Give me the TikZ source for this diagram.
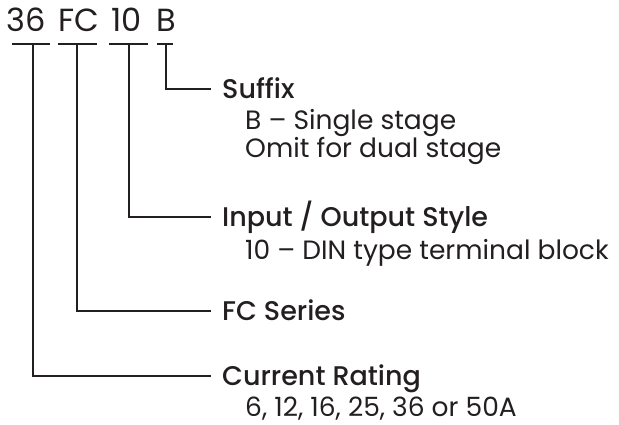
\documentclass[tikz,border=0pt]{standalone}
\usepackage{fontspec}
\setmainfont{Poppins}[BoldFont={Poppins Medium}]
\usetikzlibrary{positioning}
\definecolor{ink}{RGB}{35,31,32}
\tikzset{
  part/.style={anchor=base, inner sep=0pt, text height=22pt, text depth=0pt,
               font=\fontsize{32}{32}\selectfont, text=ink},
  lbl/.style={anchor=west, inner xsep=11pt, inner ysep=0pt, text height=19pt,
              text depth=0pt, font=\fontsize{27}{27}\selectfont\bfseries, text=ink},
  desc/.style={anchor=base west, inner sep=0pt, font=\fontsize{26.5}{26.5}\selectfont, text=ink},
  lead/.style={draw=ink, line width=2.3pt},
}
\begin{document}
\begin{tikzpicture}[x=1pt, y=-1pt]
  \useasboundingbox (0,0) rectangle (619,425);

  % part number
  \node[part] (p36) at (26.5,32) {36};
  \node[part] (pfc) at (79,32) {FC};
  \node[part] (p10) at (126.5,32) {10};
  \node[part] (pb)  at (166,32) {B};
  \draw[lead] (12,44) -- (50,44) (58,44) -- (97,44)
              (109,44) -- (148,44) (157,44) -- (173,44);
  \coordinate (t36) at (33,44);
  \coordinate (tfc) at (77,44);
  \coordinate (t10) at (129,44);
  \coordinate (tb)  at (166,44);

  % field names
  \node[lbl] (suffix) at (211,89)  {Suffix};
  \node[lbl] (style)  at (211,217) {Input / Output Style};
  \node[lbl] (series) at (211,311) {FC Series};
  \node[lbl] (rating) at (211,376) {Current Rating};

  % field values
  \node[desc] (suffixb) at ([xshift=34pt, yshift=-31pt]suffix.base west) {B – Single stage};
  \node[desc] (suffixo) at ([yshift=-28pt]suffixb.base west) {Omit for dual stage};
  \node[desc] (stylev)  at ([xshift=34pt, yshift=-33pt]style.base west) {10 – DIN type terminal block};
  \node[desc] (ratingv) at ([xshift=34pt, yshift=-31pt]rating.base west) {6, 12, 16, 25, 36 or 50A};

  % leaders
  \draw[lead] (tb)  |- (suffix.west);
  \draw[lead] (t10) |- (style.west);
  \draw[lead] (tfc) |- (series.west);
  \draw[lead] (t36) |- (rating.west);
\end{tikzpicture}
\end{document}
